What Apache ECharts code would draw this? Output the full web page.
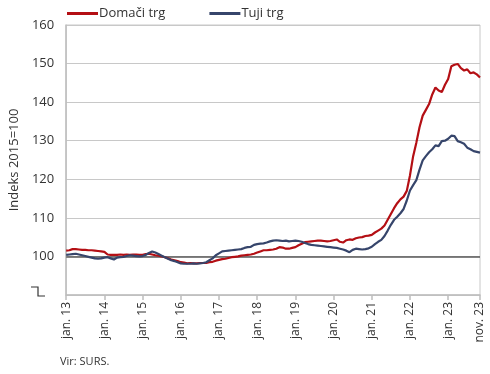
<!DOCTYPE html>
<html><head><meta charset="utf-8">
<script src="https://cdn.jsdelivr.net/npm/echarts@6/dist/echarts.min.js"></script>
<style>html,body{margin:0;padding:0;background:#fff}#c{width:490px;height:374px}</style>
</head><body><div id="c"></div>
<script>
const monthNames = ['jan.','feb.','mar.','apr.','maj','jun.','jul.','avg.','sep.','okt.','nov.','dec.'];
const years = ['13','14','15','16','17','18','19','20','21','22','23'];
const lastMonthCount = 11; // 2023 up to november
const categories = [];
years.forEach((y, yi) => {
  const n = yi === years.length - 1 ? lastMonthCount : 12;
  for (let m = 0; m < n; m++) categories.push(monthNames[m] + ' ' + y);
});
const domaciTrg = [
  101.5,101.6,101.9,101.9,101.8,101.7,101.7,101.6,101.6,101.5,101.4,101.3,
  101.2,100.5,100.4,100.4,100.4,100.5,100.4,100.5,100.4,100.5,100.5,100.4,
  100.4,100.6,100.7,100.5,100.3,100.2,100.0,99.8,99.5,99.2,99.0,98.8,
  98.5,98.4,98.2,98.3,98.2,98.2,98.3,98.3,98.3,98.5,98.6,98.9,
  99.1,99.3,99.4,99.6,99.8,99.9,100.0,100.2,100.3,100.4,100.5,100.7,
  101.0,101.3,101.6,101.6,101.7,101.8,102.0,102.4,102.3,102.0,102.0,102.2,
  102.4,102.9,103.3,103.7,103.8,103.9,104.0,104.1,104.1,104.0,103.9,104.0,
  104.2,104.4,103.8,103.6,104.2,104.4,104.3,104.7,104.9,105.0,105.3,105.4,
  105.6,106.2,106.7,107.2,108.0,109.5,111.0,112.5,113.8,114.8,115.5,117.0,
  121.0,126.0,129.5,133.5,136.5,138.0,139.5,142.0,143.8,143.0,142.6,144.5,
  146.0,149.3,149.7,149.9,148.8,148.2,148.5,147.5,147.7,147.2,146.4
];
const tujiTrg = [
  100.4,100.5,100.6,100.7,100.5,100.3,100.1,99.9,99.7,99.5,99.4,99.5,
  99.7,99.8,99.5,99.2,99.7,99.8,99.9,100.1,100.3,100.2,100.1,100.0,
  100.1,100.4,100.9,101.3,101.0,100.6,100.2,99.8,99.4,99.0,98.8,98.5,
  98.2,98.1,98.1,98.1,98.2,98.1,98.2,98.3,98.5,99.0,99.5,100.3,
  100.8,101.3,101.4,101.5,101.6,101.7,101.8,101.9,102.2,102.4,102.5,103.0,
  103.2,103.3,103.4,103.6,103.9,104.1,104.2,104.1,104.0,104.1,103.9,104.0,
  104.1,104.0,103.8,103.5,103.2,103.0,102.9,102.8,102.7,102.6,102.5,102.4,
  102.3,102.2,102.0,101.8,101.5,101.1,101.7,102.0,101.9,101.8,101.9,102.1,
  102.5,103.2,103.8,104.3,105.3,106.7,108.2,109.5,110.3,111.2,112.3,114.5,
  117.1,118.5,119.8,122.5,124.9,126.0,127.0,127.8,128.8,128.6,129.9,130.0,
  130.5,131.3,131.2,129.9,129.6,129.2,128.2,127.8,127.3,127.1,126.9
];
const seriesNames = ['Domači trg', 'Tuji trg'];
const yTicks = {min: 90, max: 160, step: 10};
const refLevel = 100;

const font = '"Open Sans", "Noto Sans", sans-serif';
const showTick = (i) => i % 12 === 0 || i === categories.length - 1;
const chart = echarts.init(document.getElementById('c'), null, {renderer: 'canvas'});
chart.setOption({
  animation: false,
  textStyle: {fontFamily: font},
  legend: {
    top: 2, left: 62, itemGap: 44, itemWidth: 31, itemHeight: 3,
    icon: 'rect',
    textStyle: {fontSize: 13, color: '#333', fontFamily: font, padding: [0,0,0,-4]},
    data: seriesNames
  },
  grid: {left: 62, right: 10, top: 25, bottom: 79, show: true, borderColor: '#c8c8c8', borderWidth: 1},
  xAxis: {
    type: 'category', data: categories, boundaryGap: false,
    axisLine: {lineStyle: {color: '#bdbdbd', width: 1.5}},
    axisTick: {show: true, interval: (i) => showTick(i), length: 5, lineStyle: {color: '#bdbdbd', width: 1.5}},
    axisLabel: {interval: (i) => showTick(i), rotate: 90, fontSize: 12, color: '#333', margin: 7, fontFamily: font},
    splitLine: {show: false}
  },
  yAxis: {
    type: 'value', min: yTicks.min, max: yTicks.max, interval: yTicks.step,
    name: 'Indeks 2015=100', nameLocation: 'middle', nameGap: 40,
    nameTextStyle: {fontSize: 13, color: '#333', fontFamily: font},
    axisLine: {show: true, lineStyle: {color: '#bdbdbd', width: 1.5}},
    axisTick: {show: false},
    axisLabel: {fontSize: 13, color: '#333', margin: 12, fontFamily: font,
      formatter: (v) => v === yTicks.min ? '' : String(v)},
    splitLine: {lineStyle: {color: '#c8c8c8', width: 1}}
  },
  series: [
    {name: seriesNames[0], type: 'line', data: domaciTrg, showSymbol: false, symbol: 'none',
     lineStyle: {color: '#b40f14', width: 2.2}, itemStyle: {color: '#b40f14'}, z: 3,
     markLine: {silent: true, symbol: 'none', label: {show: false},
       lineStyle: {color: '#595959', width: 1.5, type: 'solid'}, data: [{yAxis: refLevel}], z: 1}},
    {name: seriesNames[1], type: 'line', data: tujiTrg, showSymbol: false, symbol: 'none',
     lineStyle: {color: '#36456b', width: 2.2}, itemStyle: {color: '#36456b'}, z: 4}
  ],
  graphic: [
    {type: 'polyline', shape: {points: [[31, 287], [38, 287], [38, 296], [45, 296]]},
     style: {stroke: '#333', lineWidth: 1.2, fill: null}},
    {type: 'text', left: 60, top: 356, style: {text: 'Vir: SURS.', font: '11px ' + font, fill: '#333'}}
  ]
});
</script></body></html>
